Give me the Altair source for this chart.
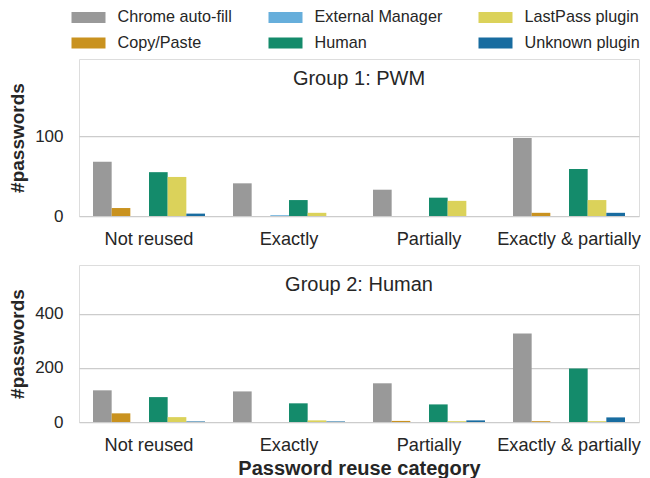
import altair as alt
import pandas as pd

categories = ["Not reused", "Exactly", "Partially", "Exactly & partially"]
methods = ["Chrome auto-fill", "Copy/Paste", "External Manager", "Human",
           "LastPass plugin", "Unknown plugin"]
method_colors = ["#999999", "#c9921f", "#66aedb", "#148b6b", "#dbd25a", "#186ca0"]

# Group 1: PWM (values per method, in category order)
g1_chrome = [68, 41, 33, 98]
g1_copy = [10, 0, 0, 4]
g1_external = [0, 1, 0, 0]
g1_human = [55, 20, 23, 59]
g1_lastpass = [49, 4, 19, 20]
g1_unknown = [3, 0, 0, 4]

# Group 2: Human
g2_chrome = [117, 113, 143, 327]
g2_copy = [32, 0, 4, 3]
g2_external = [0, 0, 0, 0]
g2_human = [92, 69, 65, 198]
g2_lastpass = [18, 6, 3, 3]
g2_unknown = [2, 2, 6, 17]

group_titles = ["Group 1: PWM", "Group 2: Human"]
y_max = [197, 580]
y_ticks = [[0, 100], [0, 200, 400]]

FONT = "Liberation Sans"
TXT = "#262626"


def make_df(series):
    rows = []
    for m, vals in zip(methods, series):
        for c, v in zip(categories, vals):
            rows.append({"category": c, "method": m, "count": v})
    return pd.DataFrame(rows)


df1 = make_df([g1_chrome, g1_copy, g1_external, g1_human, g1_lastpass, g1_unknown])
df2 = make_df([g2_chrome, g2_copy, g2_external, g2_human, g2_lastpass, g2_unknown])

legend = alt.Legend(
    title=None, orient="none", legendX=-7.5, legendY=-59, columns=3,
    columnPadding=36, rowPadding=0, padding=0,
    symbolType="M-1,-0.3235H1V0.3235H-1Z", symbolSize=1156,
    symbolStrokeWidth=0, symbolOpacity=1,
    labelFontSize=16.2, labelFont=FONT, labelColor=TXT, labelOffset=12,
)


def panel(i, df, xtitle):
    bars = alt.Chart(df).mark_bar().encode(
        x=alt.X("category:N", sort=categories,
                scale=alt.Scale(paddingInner=0.2, paddingOuter=0.1),
                axis=alt.Axis(labelAngle=0, labelFontSize=18.2, labelFont=FONT,
                              labelColor=TXT, labelPadding=14, ticks=False,
                              domain=False, grid=False,
                              title=xtitle, titleFontSize=20, titleFont=FONT,
                              titleFontWeight="bold", titleColor=TXT,
                              titlePadding=5)),
        xOffset=alt.XOffset("method:N", sort=methods),
        y=alt.Y("count:Q", scale=alt.Scale(domain=[0, y_max[i]], nice=False),
                axis=alt.Axis(values=y_ticks[i], title="#passwords",
                              labelFontSize=17, labelFont=FONT, labelColor=TXT,
                              labelPadding=16, ticks=False, domain=False,
                              grid=True, gridColor="#cccccc", gridWidth=1.25,
                              titleFontSize=19, titleFont=FONT,
                              titleFontWeight="bold", titleColor=TXT,
                              titlePadding=7)),
        color=alt.Color("method:N",
                        scale=alt.Scale(domain=methods, range=method_colors),
                        legend=legend),
    )
    title = alt.Chart(pd.DataFrame({"t": [group_titles[i]]})).mark_text(
        font=FONT, fontSize=20, color=TXT, align="center", baseline="alphabetic"
    ).encode(text="t:N", x=alt.value(280), y=alt.value(25.5))
    return alt.layer(bars, title).properties(width=560, height=157)


p1 = panel(0, df1, None)
p2 = panel(1, df2, "Password reuse category")

chart = alt.vconcat(p1, p2, spacing=16).properties(
    padding={"left": 0, "top": -8, "right": 0, "bottom": 0}
).configure_view(stroke="#cccccc", strokeWidth=1.5).configure(background="white")

chart.save("out.html", embed_options={"renderer": "svg", "actions": False})
